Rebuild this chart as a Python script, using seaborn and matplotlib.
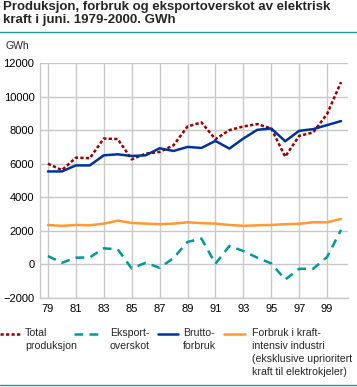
import pandas as pd
import matplotlib.pyplot as plt
import seaborn as sns
from matplotlib.lines import Line2D

years = list(range(1979, 2001))
total = [6000, 5620, 6360, 6330, 7500, 7470, 6260, 6600, 6700, 7100, 8220, 8460,
         7460, 8000, 8220, 8360, 8100, 6420, 7660, 7860, 8960, 10860]
eksport = [500, 100, 400, 420, 960, 900, -240, 100, -200, 380, 1340, 1540,
           40, 1100, 800, 400, 60, -900, -260, -260, 440, 2060]
brutto = [5540, 5540, 5900, 5900, 6500, 6560, 6460, 6500, 6920, 6760, 7000, 6940,
          7360, 6900, 7500, 8020, 8100, 7340, 7960, 8060, 8300, 8540]
industri = [2350, 2300, 2350, 2330, 2430, 2610, 2470, 2430, 2400, 2430, 2510, 2460,
            2430, 2350, 2300, 2330, 2350, 2400, 2420, 2510, 2510, 2710]

labels = ['Total\nproduksjon', 'Eksport-\noverskot', 'Brutto-\nforbruk',
          'Forbruk i kraft-\nintensiv industri\n(eksklusive uprioritert\nkraft til elektrokjeler)']
colors = ['#990000', '#009999', '#003399', '#ff9933']
dashes = [(1.3, 0.9), (3.5, 2.5), None, None]
series = [total, eksport, brutto, industri]

sns.set_style('white')
plt.rcParams['font.family'] = ['Liberation Sans', 'DejaVu Sans']

fig = plt.figure(figsize=(3.57, 3.87), dpi=100)
ax = fig.add_axes([40/357, 1-298/387, 308/357, 235/387])

grid = '#c8c8c8'
for vals, col, d in zip(series, colors, dashes):
    df = pd.DataFrame({'year': years, 'val': vals})
    sns.lineplot(data=df, x='year', y='val', color=col, lw=1.8, ax=ax, zorder=3)
    if d is not None:
        ax.lines[-1].set_dashes(d)

ax.set_xlim(1978.43, 2000.5)
ax.set_ylim(-2000, 12000)
ax.set_yticks(range(-2000, 12001, 2000))
ax.set_xticks(range(1979, 2000, 2))
ax.set_xticklabels([f'{y % 100:02d}' for y in range(1979, 2000, 2)])
ax.set_xticks(years, minor=True)
ax.set_xlabel('')
ax.set_ylabel('')
ax.grid(True, color=grid, lw=1)
for s in ['top', 'right']:
    ax.spines[s].set_visible(False)
for s in ['left', 'bottom']:
    ax.spines[s].set_color(grid)
    ax.spines[s].set_linewidth(1)
ax.tick_params(axis='both', labelsize=8, colors='black', pad=4)
ax.tick_params(axis='x', which='both', direction='in', length=3, color=grid)
ax.tick_params(axis='y', length=0)

fig.text(3/357, 1-1/387, 'Produksjon, forbruk og eksportoverskot av elektrisk\nkraft i juni. 1979-2000. GWh',
         fontsize=9.5, fontweight='bold', va='top', ha='left', linespacing=1.1)
fig.add_artist(Line2D([0, 1], [1-32/387, 1-32/387], color='#1a9a9a', lw=1))
fig.add_artist(Line2D([0, 1], [1-385/387, 1-385/387], color='#1a9a9a', lw=1))
fig.text(5/357, 1-46/387, 'GWh', fontsize=7.5, va='center', ha='left')

# legend
hx = [(0, 20, 25), (74, 103, 110), (158, 178, 183), (224, 245, 252)]
for (x0, x1, tx), lab, col, d in zip(hx, labels, colors, dashes):
    ly = 1 - 334/387
    ln = Line2D([x0/357, x1/357], [ly, ly], color=col, lw=1.8)
    if d is not None:
        ln.set_dashes(d)
    fig.add_artist(ln)
    fig.text(tx/357, 1-328/387, lab, fontsize=7.6, va='top', ha='left', linespacing=1.38)

fig.savefig('out.png', dpi=100)
